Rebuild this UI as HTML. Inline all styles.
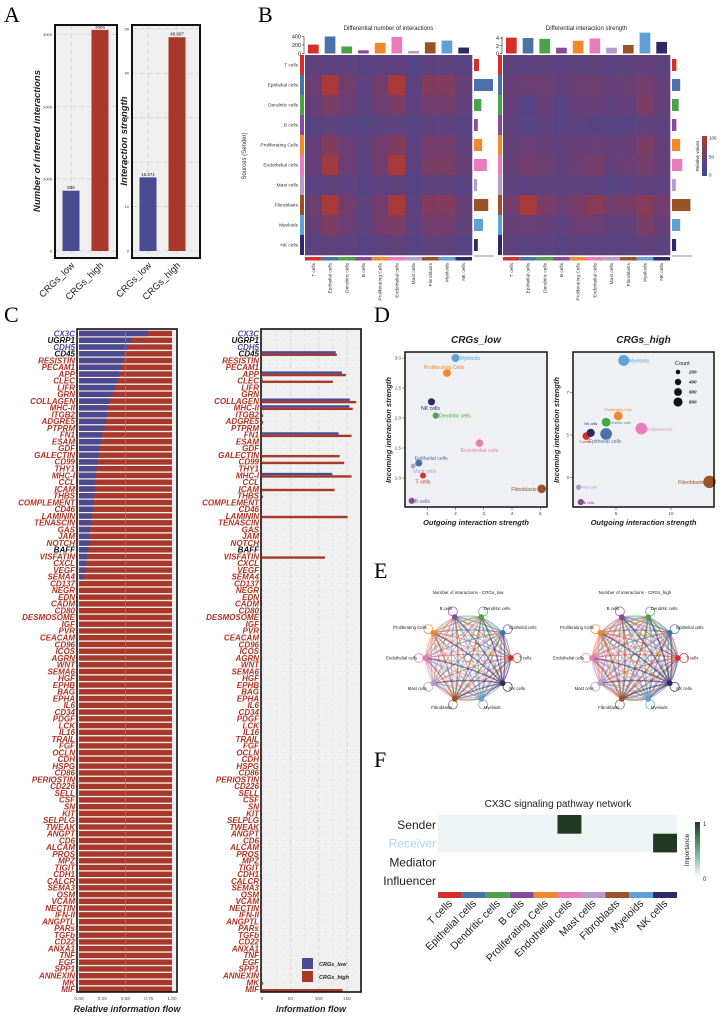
<!DOCTYPE html>
<html><head><meta charset="utf-8"><style>
html,body{margin:0;padding:0;background:#fff;}
svg{display:block;font-family:"Liberation Sans",sans-serif;}
</style></head>
<body>
<svg id="fig" width="720" height="1018" viewBox="0 0 720 1018" xmlns="http://www.w3.org/2000/svg">
<defs>
<linearGradient id="gradB" x1="0" y1="1" x2="0" y2="0"><stop offset="0" stop-color="#3b4b97"/><stop offset="0.5" stop-color="#6b3e74"/><stop offset="1" stop-color="#b8392a"/></linearGradient>
<linearGradient id="gradF" x1="0" y1="1" x2="0" y2="0"><stop offset="0" stop-color="#ffffff"/><stop offset="0.5" stop-color="#5fae86"/><stop offset="1" stop-color="#1f3a20"/></linearGradient>
</defs>
<g id="gA"></g>
<g id="gB"></g>
<g id="gC"></g>
<g id="gD"></g>
<g id="gE"></g>
<g id="gF"></g>
</svg>
<script>
// ---------- data ----------
const cells=['T cells','Epithelial cells','Dendritic cells','B cells','Proliferating Cells','Endothelial cells','Mast cells','Fibroblasts','Myeloids','NK cells'];
const groupsA=['CRGs_low','CRGs_high'];
const countsA=[836,3066];
const strengthA=[16.571,48.097];
const countTicks=[0,1000,2000,3000];
const strengthTicks=[0,10,20,30,40,50];
const diffCountTop=[210,400,165,75,250,390,60,265,305,140];
const diffCountSide=[105,400,155,80,170,270,65,300,190,80];
const diffStrTop=[4.1,4.0,3.8,1.5,3.3,3.9,1.5,2.2,5.4,3.0];
const diffStrSide=[1.5,2.8,2.3,1.5,2.8,3.5,1.3,6.3,2.8,1.4];
const matCount=[
[.35,.35,.35,.3,.35,.35,.25,.35,.35,.3],
[.5,.9,.55,.35,.55,.9,.35,.65,.65,.45],
[.45,.6,.5,.35,.5,.6,.35,.55,.55,.4],
[.3,.35,.32,.28,.32,.35,.28,.35,.35,.3],
[.45,.65,.5,.35,.55,.65,.35,.55,.55,.4],
[.45,.85,.5,.35,.55,.9,.35,.6,.6,.45],
[.32,.38,.35,.3,.35,.38,.3,.38,.38,.32],
[.5,.9,.55,.35,.55,.9,.35,.65,.65,.45],
[.45,.62,.5,.35,.55,.62,.35,.55,.55,.4],
[.33,.38,.35,.3,.35,.38,.3,.38,.38,.3]];
const matStr=[
[.4,.35,.38,.35,.38,.38,.32,.36,.42,.36],
[.45,.5,.5,.4,.5,.52,.42,.48,.55,.45],
[.42,.3,.45,.3,.45,.45,.4,.42,.6,.42],
[.38,.28,.36,.3,.34,.3,.28,.3,.4,.34],
[.44,.48,.46,.4,.46,.48,.42,.44,.6,.44],
[.46,.55,.5,.42,.5,.58,.44,.48,.55,.44],
[.38,.35,.36,.34,.36,.36,.32,.34,.4,.36],
[.55,.9,.6,.5,.58,.7,.55,.58,.68,.55],
[.45,.48,.45,.35,.5,.5,.38,.4,.6,.45],
[.38,.32,.34,.3,.34,.34,.32,.32,.4,.34]];
const pathways=['CX3C','UGRP1','CDH5','CD45','RESISTIN','PECAM1','APP','CLEC','LIFR','GRN','COLLAGEN','MHC-II','ITGB2','ADGRE5','PTPRM','FN1','ESAM','GDF','GALECTIN','CD99','THY1','MHC-I','CCL','ICAM','THBS','COMPLEMENT','CD46','LAMININ','TENASCIN','GAS','JAM','NOTCH','BAFF','VISFATIN','CXCL','VEGF','SEMA4','CD137','NEGR','EDN','CADM','CD80','DESMOSOME','IGF','PVR','CEACAM','CD96','ICOS','AGRN','WNT','SEMA6','HGF','EPHB','BAG','EPHA','IL6','CD34','PDGF','LCK','IL16','TRAIL','FGF','OCLN','CDH','HSPG','CD86','PERIOSTIN','CD226','SELL','CSF','SN','KIT','SELPLG','TWEAK','ANGPT','CD6','ALCAM','PROS','MPZ','TIGIT','CDH1','CALCR','SEMA3','OSM','VCAM','NECTIN','IFN-II','ANGPTL','PARs','TGFb','CD22','ANXA1','TNF','EGF','SPP1','ANNEXIN','MK','MIF'];
const relLow=[0.74,0.57,0.52,0.49,0.48,0.45,0.43,0.41,0.39,0.36,0.33,0.31,0.30,0.29,0.27,0.25,0.24,0.22,0.21,0.20,0.19,0.18,0.17,0.17,0.16,0.16,0.15,0.14,0.13,0.12,0.11,0.11,0.10,0.09,0.08,0.07,0.05];
const flowLowNamed={'CD45':130,'APP':141,'CLEC':1,'COLLAGEN':155,'MHC-II':154,'FN1':135,'MHC-I':124};
const flowHighNamed={'CD45':132,'APP':148,'CLEC':125,'COLLAGEN':166,'MHC-II':160,'ITGB2':2,'ADGRE5':2,'FN1':158,'GALECTIN':137,'CD99':145,'MHC-I':158,'ICAM':128,'THBS':1.5,'LAMININ':151,'VISFATIN':111,'MK':2,'MIF':142};
const relTicks=[0,0.25,0.5,0.75,1];
const flowTicks=[0,50,100,150];
const lowX=[0.85,0.7,1.3,0.45,1.7,2.85,0.5,5.05,2.0,1.15];
const lowY=[1.04,1.25,2.04,0.62,2.75,1.58,1.2,0.82,3.0,2.27];
const lowCount=[180,260,200,200,320,300,120,380,330,260];
const highX=[2.3,4.1,4.1,1.8,5.2,7.3,1.6,13.5,5.7,2.7];
const highY=[4.95,5.05,5.6,1.85,5.9,5.3,2.55,2.8,8.5,5.1];
const highCount=[300,700,400,200,400,700,150,800,600,350];
const lowTicksX=[1,2,3,4,5], lowTicksY=[1.0,1.5,2.0,2.5,3.0];
const highTicksX=[5,10], highTicksY=[3,5,7];
const countLegend=[200,400,600,800];
const roles=['Sender','Receiver','Mediator','Influencer'];
const importance=[[0,0,0,0,0,1,0,0,0,0],[0,0,0,0,0,0,0,0,0,1],[0,0,0,0,0,0,0,0,0,0],[0,0,0,0,0,0,0,0,0,0]];
const cellColors=['#d62e2b','#4a72a8','#4ca24a','#8a4a9c','#f0892c','#e97cba','#b79bcc','#9a5229','#5fa1d6','#2e2a66'];

// ---------- helpers ----------
const NS='http://www.w3.org/2000/svg';
function mk(tag,parent,attrs){const e=document.createElementNS(NS,tag);for(const k in attrs)e.setAttribute(k,attrs[k]);parent.appendChild(e);return e;}
function txt(parent,x,y,s,attrs){const t=mk('text',parent,Object.assign({x:x,y:y},attrs||{}));t.textContent=s;return t;}
function lerpC(a,b,t){const pa=[1,3,5].map(i=>parseInt(a.substr(i,2),16)),pb=[1,3,5].map(i=>parseInt(b.substr(i,2),16));return 'rgb('+pa.map((v,i)=>Math.round(v+(pb[i]-v)*t)).join(',')+')';}
function heatColor(v){return v<0.5?lerpC('#3b4b97','#6b3e74',v/0.5):lerpC('#6b3e74','#b8392a',(v-0.5)/0.5);}
const bigLetter={'font-family':'"Liberation Serif",serif','font-size':'22'};

// ---------- Panel A ----------
const gA=document.getElementById('gA');
let L=txt(gA,4,22,'A',bigLetter);

function barChartA(x0,x1,vals,ticks,maxV,title,tfmt,name,titleX){
  const g=mk('g',gA,{});
  
  const yb=251,yt=27;const ys=v=>yb-(v/maxV)*(yb-yt);
  mk('rect',g,{x:x0,y:25,width:x1-x0,height:233,fill:'#efefef'});
  ticks.forEach(t=>{mk('line',g,{x1:x0,x2:x1,y1:ys(t),y2:ys(t),stroke:'#cfcfcf','stroke-width':0.8,'stroke-dasharray':'5,3'});
    const tl=txt(g,x0-3,ys(t)+1.5,String(t),{'font-size':'4','text-anchor':'end',fill:'#333'});
    });
  const bw=17,cx=[x0+16,x0+45];
  vals.forEach((v,i)=>{mk('line',g,{x1:cx[i],x2:cx[i],y1:25,y2:258,stroke:'#cfcfcf','stroke-width':0.8,'stroke-dasharray':'5,3'});});
  vals.forEach((v,i)=>{const r=mk('rect',g,{x:cx[i]-bw/2,y:ys(v),width:bw,height:yb-ys(v),fill:i?'#a8392a':'#4a4a92'});
    
    const vl=txt(g,cx[i],ys(v)-1.5,tfmt(v),{'font-size':'4.5','text-anchor':'middle',fill:'#222'});
    
    const xl=txt(g,cx[i]+4,266,groupsA[i],{'font-size':'9.5','text-anchor':'end',fill:'#222',transform:'rotate(-45 '+(cx[i]+4)+' 266)'});
    });
  mk('rect',g,{x:x0,y:25,width:x1-x0,height:233,fill:'none',stroke:'#111','stroke-width':2});
  const tt=txt(g,0,0,title,{'font-size':'9.5','font-weight':'bold','font-style':'italic','text-anchor':'middle',fill:'#222',transform:'translate('+titleX+',141) rotate(-90)'});
  
}
barChartA(55,117,countsA,countTicks,3106,'Number of inferred interactions',v=>String(v),'chart-interaction-count',40);
barChartA(132,200,strengthA,strengthTicks,50.4,'Interaction strength',v=>v.toFixed(3),'chart-interaction-strength',127);

// ---------- Panel B ----------
const gB=document.getElementById('gB');
L=txt(gB,258,22,'B',bigLetter);

function heatB(hx,mat,top,side,topMax,topTicks,sideMax,title,name,labels){
  const g=mk('g',gB,{});
  
  const W=167,H=200,y0=55,cw=W/10,ch=H/10;
  const tl=txt(g,hx+W/2,30,title,{'font-size':'6','text-anchor':'middle',fill:'#222'});
  
  mat.forEach((row,i)=>row.forEach((v,j)=>{const c=mk('rect',g,{x:hx+j*cw,y:y0+i*ch,width:cw+0.3,height:ch+0.3,fill:heatColor(v)});
    }));
  const tb=53.5,th=17;
  mk('line',g,{x1:hx-1,x2:hx-1,y1:tb,y2:tb-th,stroke:'#222','stroke-width':0.6});
  topTicks.forEach(t=>{const y=tb-t/topMax*th;mk('line',g,{x1:hx-3,x2:hx-1,y1:y,y2:y,stroke:'#222','stroke-width':0.6});
    txt(g,hx-4,y+2,String(t),{'font-size':'5.5','text-anchor':'end',fill:'#222'});});
  top.forEach((v,j)=>{const h=v/topMax*th;const b=mk('rect',g,{x:hx+j*cw+3,y:tb-h,width:cw-6,height:h,fill:cellColors[j]});
    });
  side.forEach((v,i)=>{const w=v/sideMax*19;const b=mk('rect',g,{x:hx+W+2,y:y0+i*ch+4,width:w,height:ch-8,fill:cellColors[i]});
    });
  mk('line',g,{x1:hx+W+2,x2:hx+W+22,y1:256,y2:256,stroke:'#222','stroke-width':0.6});
  cells.forEach((c,i)=>{mk('rect',g,{x:hx-5,y:y0+i*ch,width:4,height:ch,fill:cellColors[i]});
    mk('rect',g,{x:hx+i*cw,y:y0+H+2,width:cw,height:3.5,fill:cellColors[i]});
    const cl=txt(g,0,0,c,{'font-size':'4.8','text-anchor':'end',fill:'#333',transform:'translate('+(hx+i*cw+cw/2+1.5)+','+(y0+H+8)+') rotate(-90)'});
    
    if(labels){const rl=txt(g,hx-7,y0+i*ch+ch/2+1.5,c,{'font-size':'4.8','text-anchor':'end',fill:'#333'});
      }});
}
heatB(305,matCount,diffCountTop,diffCountSide,400,[0,200,400],400,'Differential number of interactions','heatmap-count',true);
heatB(503,matStr,diffStrTop,diffStrSide,4.4,[0,2,4],6.5,'Differential interaction strength','heatmap-strength',false);
let ax=txt(gB,0,0,'Sources (Sender)',{'font-size':'6','text-anchor':'middle',fill:'#333',transform:'translate(246,156) rotate(-90)'});

const cbB=mk('rect',gB,{x:702,y:136,width:5,height:40,fill:'url(#gradB)'});

[['100',138],['50',157],['0',175]].forEach(a=>txt(gB,709,a[1]+1.5,a[0],{'font-size':'4.5',fill:'#222'}));
txt(gB,0,0,'Relative values',{'font-size':'4.5','text-anchor':'middle',fill:'#222',transform:'translate(699,156) rotate(-90)'});

// ---------- Panel C ----------
const gC=document.getElementById('gC');
L=txt(gC,4,322,'C',bigLetter);

const rowY=i=>333.5+i*6.76;
function labColor(p){if(p==='CX3C'||p==='CDH5')return '#4a4aa0';if(p==='UGRP1'||p==='CD45'||p==='BAFF')return '#111';return '#b03424';}
const gCL=mk('g',gC,{});

const rx0=79,rx1=172,rsx=v=>rx0+v*(rx1-rx0);
mk('rect',gCL,{x:77,y:329,width:100,height:663,fill:'#f6eeee'});
pathways.forEach((p,i)=>{const y=rowY(i);const lo=i<relLow.length?relLow[i]:0;
  const rr=mk('rect',gCL,{x:rsx(0),y:y-2.7,width:rsx(1)-rsx(0),height:5.4,fill:'#a8392a'});
  
  if(lo>0){const rb=mk('rect',gCL,{x:rsx(0),y:y-2.7,width:rsx(lo)-rsx(0),height:5.4,fill:'#4a4a92'});
    }
  const t=txt(gCL,75,y+2.8,p,{'font-size':'8','font-weight':'bold','font-style':'italic','text-anchor':'end',fill:labColor(p)});
  
});
mk('line',gCL,{x1:rsx(0.5),x2:rsx(0.5),y1:329,y2:992,stroke:'#888','stroke-width':0.7});
mk('rect',gCL,{x:77,y:329,width:100,height:663,fill:'none',stroke:'#111','stroke-width':1.6});
relTicks.forEach(t=>{txt(gCL,rsx(t),1000,t.toFixed(2),{'font-size':'4.8','text-anchor':'middle',fill:'#555'});});
ax=txt(gCL,127,1012,'Relative information flow',{'font-size':'9','font-weight':'bold','font-style':'italic','text-anchor':'middle',fill:'#222'});

const gCR=mk('g',gC,{});

const fx0=262,fsx=v=>fx0+v*0.567;
mk('rect',gCR,{x:261,y:329,width:100,height:663,fill:'#f0f0f0'});
flowTicks.forEach(t=>{mk('line',gCR,{x1:fsx(t),x2:fsx(t),y1:329,y2:992,stroke:'#d0d0d0','stroke-width':0.7,'stroke-dasharray':'4,3'});
  mk('line',gCR,{x1:fsx(t+25),x2:fsx(t+25),y1:329,y2:992,stroke:'#dedede','stroke-width':0.5,'stroke-dasharray':'2,3'});
  txt(gCR,fsx(t),1000,String(t),{'font-size':'4.8','text-anchor':'middle',fill:'#555'});});
pathways.forEach((p,i)=>{const y=rowY(i);
  mk('line',gCR,{x1:261,x2:361,y1:y,y2:y,stroke:'#e2e2e2','stroke-width':0.5,'stroke-dasharray':'3,4'});
  const lo=flowLowNamed[p]||0,hi=flowHighNamed[p]||0;
  if(lo>0){const b=mk('rect',gCR,{x:fx0,y:y-2.6,width:fsx(lo)-fx0,height:2.4,fill:'#4a4a92'});
    }
  if(hi>0){const b=mk('rect',gCR,{x:fx0,y:y-0.2,width:fsx(hi)-fx0,height:2.4,fill:'#a8392a'});
    }
  const t=txt(gCR,259,y+2.8,p,{'font-size':'8','font-weight':'bold','font-style':'italic','text-anchor':'end',fill:labColor(p)});
  
});
mk('rect',gCR,{x:261,y:329,width:100,height:663,fill:'none',stroke:'#111','stroke-width':1.6});
ax=txt(gCR,311,1012,'Information flow',{'font-size':'9','font-weight':'bold','font-style':'italic','text-anchor':'middle',fill:'#222'});

let lg=mk('g',gCR,{});

mk('rect',lg,{x:302,y:958,width:11,height:11,fill:'#4a4a92'});
mk('rect',lg,{x:302,y:971,width:11,height:11,fill:'#a8392a'});
let le=txt(lg,319,966,'CRGs_low',{'font-size':'5.5','font-weight':'bold','font-style':'italic',fill:'#222'});

le=txt(lg,319,979,'CRGs_high',{'font-size':'5.5','font-weight':'bold','font-style':'italic',fill:'#222'});


// ---------- Panel D ----------
const gD=document.getElementById('gD');
L=txt(gD,374,322,'D',bigLetter);

function scatterD(bx,bw,title,X,Y,C,sx,sy,tx,ty,fmtY,name,offs,small){
  const g=mk('g',gD,{});
  
  mk('rect',g,{x:bx,y:352,width:bw,height:155,fill:'#eef0f4'});
  const t=txt(g,bx+bw/2,343,title,{'font-size':'10','font-weight':'bold','font-style':'italic','text-anchor':'middle',fill:'#222'});
  
  tx.forEach(v=>{mk('line',g,{x1:sx(v),x2:sx(v),y1:507,y2:510,stroke:'#333','stroke-width':0.5});txt(g,sx(v),515,String(v),{'font-size':'4.5','text-anchor':'middle',fill:'#444'});});
  ty.forEach(v=>{mk('line',g,{x1:bx-3,x2:bx,y1:sy(v),y2:sy(v),stroke:'#333','stroke-width':0.5});txt(g,bx-4,sy(v)+1.5,fmtY(v),{'font-size':'4.5','text-anchor':'end',fill:'#444'});});
  X.forEach((x,i)=>{const r=Math.sqrt(C[i])*0.22;const c=mk('circle',g,{cx:sx(x),cy:sy(Y[i]),r:r,fill:cellColors[i]});
    
    const o=offs[i];const lt=txt(g,sx(x)+o[0],sy(Y[i])+o[1],cells[i],{'font-size':small&&o[3]?'3.5':'5.2','text-anchor':o[2],fill:cellColors[i]});
    });
  mk('rect',g,{x:bx,y:352,width:bw,height:155,fill:'none',stroke:'#111','stroke-width':1.5});
  let a=txt(g,bx+bw/2,525,'Outgoing interaction strength',{'font-size':'7.5','font-weight':'bold','font-style':'italic','text-anchor':'middle',fill:'#222'});
  
  a=txt(g,0,0,'Incoming interaction strength',{'font-size':'7.5','font-weight':'bold','font-style':'italic','text-anchor':'middle',fill:'#222',transform:'translate('+(bx-14)+',430) rotate(-90)'});
  
}
const offLow=[[0,8,'middle'],[-4,-3,'start'],[3,2,'start'],[3,2,'start'],[-3,-4,'middle'],[0,9,'middle'],[0,7,'start'],[-5,2,'end'],[4,2,'start'],[-1,8,'middle']];
scatterD(405,142,'CRGs_low',lowX,lowY,lowCount,v=>399+v*28.25,v=>358+(3-v)*60,lowTicksX,lowTicksY,v=>v.toFixed(1),'scatter-low',offLow,false);
const offHigh=[[-2,7,'middle',1],[-1,9,'middle'],[3,2,'start',1],[3,2,'start',1],[0,-5,'middle',1],[6,2,'start',1],[3,1.5,'start',1],[-6,2,'end'],[5,2,'start'],[0,-8,'middle',1]];
scatterD(573,141,'CRGs_high',highX,highY,highCount,v=>561+v*11,v=>435-(v-5)*21.3,highTicksX,highTicksY,v=>String(v),'scatter-high',offHigh,true);
lg=mk('g',gD,{});

txt(lg,675,365,'Count',{'font-size':'5.5',fill:'#222'});
countLegend.forEach((c,i)=>{const y=372+i*10;mk('circle',lg,{cx:678,cy:y,r:Math.sqrt(c)*0.16,fill:'#111'});
  const e=txt(lg,689,y+1.5,String(c),{'font-size':'4.5','font-style':'italic','font-weight':'bold',fill:'#222'});
  });

// ---------- Panel E ----------
const gE=document.getElementById('gE');
L=txt(gE,374,578,'E',bigLetter);

const edgeWidthLow=[1.0,1.3,1.1,0.9,1.3,1.3,1.0,1.5,1.2,1.4];
const edgeWidthHigh=[1.2,1.5,1.3,1.1,1.5,1.6,1.1,1.8,1.4,1.6];
function network(cx,cy,title,ew,name){
  const g=mk('g',gE,{});
  
  const R=43;const pos=cells.map((c,i)=>{const a=-i*36*Math.PI/180;return [cx+R*Math.cos(a),cy+R*Math.sin(a),a];});
  const t=txt(g,cx,594,title,{'font-size':'4.5','text-anchor':'middle',fill:'#222'});
  
  for(let i=0;i<10;i++)for(let j=0;j<10;j++){if(i===j)continue;
    const [x1,y1]=pos[i],[x2,y2]=pos[j];const mx=(x1+x2)/2,my=(y1+y2)/2;const dx=x2-x1,dy=y2-y1;
    const qx=mx-dy*0.08,qy=my+dx*0.08;
    const e=mk('path',g,{d:'M'+x1+' '+y1+' Q'+qx+' '+qy+' '+x2+' '+y2,fill:'none',stroke:cellColors[i],'stroke-width':ew[i],opacity:0.55});
    }
  pos.forEach((p,i)=>{const lx=p[0]+Math.cos(p[2])*6,ly=p[1]+Math.sin(p[2])*6;
    mk('circle',g,{cx:lx,cy:ly,r:4.5,fill:'none',stroke:cellColors[i],'stroke-width':0.9,opacity:0.8});});
  pos.forEach((p,i)=>{const n=mk('circle',g,{cx:p[0],cy:p[1],r:2.8,fill:cellColors[i]});
    
    const ca=Math.cos(p[2]),sa=Math.sin(p[2]);
    const lt=txt(g,p[0]+ca*8,p[1]+sa*9+1.5,cells[i],{'font-size':'4.3','text-anchor':ca>0.3?'start':(ca<-0.3?'end':'middle'),fill:'#222'});
    });
}
network(468,658,'Number of interactions - CRGs_low',edgeWidthLow,'network-low');
network(635,658,'Number of interactions - CRGs_high',edgeWidthHigh,'network-high');

// ---------- Panel F ----------
const gF=document.getElementById('gF');
L=txt(gF,374,767,'F',bigLetter);

let ft=txt(gF,558,807,'CX3C signaling pathway network',{'font-size':'10','text-anchor':'middle',fill:'#222'});

const fx=438,fw=239,fcw=fw/10,fy=815,frh=18.7;
mk('rect',gF,{x:fx,y:fy,width:fw,height:frh*2,fill:'#eef4f6'});
roles.forEach((r,i)=>{const t=txt(gF,436,fy+i*frh+frh/2+4.5,r,{'font-size':'12','text-anchor':'end',fill:i===1?'#a8d4ec':'#222'});
  
  importance[i].forEach((v,j)=>{if(v>0){const c=mk('rect',gF,{x:fx+j*fcw,y:fy+i*frh,width:fcw,height:frh,fill:lerpC('#eef4f6','#1f3a20',v)});
    }});});
cells.forEach((c,j)=>{mk('rect',gF,{x:fx+j*fcw,y:892,width:fcw,height:6,fill:cellColors[j]});
  const x=fx+j*fcw+fcw/2+3;
  const t=txt(gF,0,0,c,{'font-size':'10.5','text-anchor':'end',fill:'#222',transform:'translate('+x+',904) rotate(-45)'});
  });
const cbF=mk('rect',gF,{x:695,y:822,width:5,height:56,fill:'url(#gradF)'});

txt(gF,703,826,'1',{'font-size':'6',fill:'#222'});
txt(gF,703,881,'0',{'font-size':'6',fill:'#222'});
txt(gF,0,0,'Importance',{'font-size':'6.5','text-anchor':'middle',fill:'#222',transform:'translate(689,850) rotate(-90)'});
</script>
</body></html>
